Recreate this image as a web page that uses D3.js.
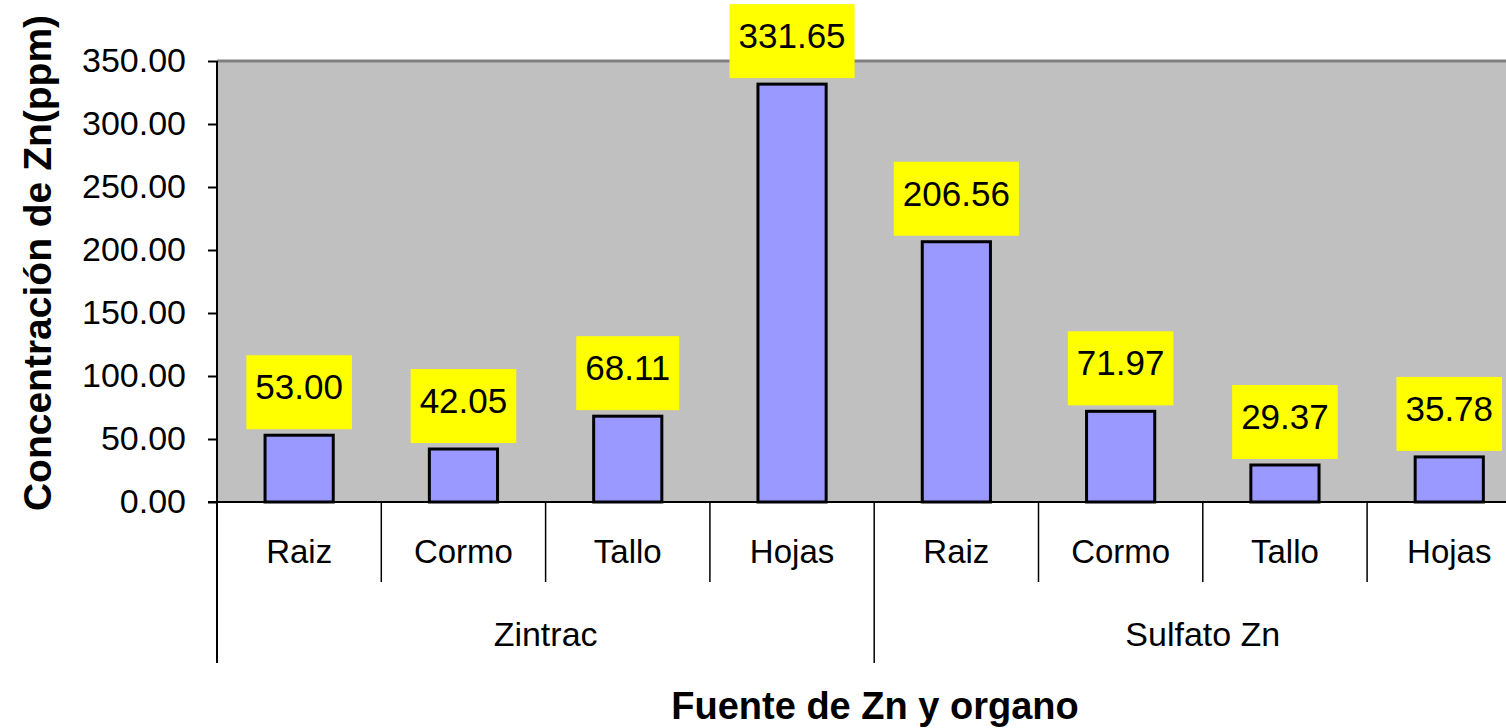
<!DOCTYPE html>
<html>
<head>
<meta charset="utf-8">
<script src="https://cdn.jsdelivr.net/npm/d3@7"></script>
<style>
  body { margin: 0; background: #fff; overflow: hidden; }
  svg { display: block; font-family: "Liberation Sans", Arial, sans-serif; }
</style>
</head>
<body>
<div id="chart"></div>
<script>
const organs = ['Raiz', 'Cormo', 'Tallo', 'Hojas', 'Raiz', 'Cormo', 'Tallo', 'Hojas'];
const groups = ['Zintrac', 'Sulfato Zn'];
const groupOf = [0, 0, 0, 0, 1, 1, 1, 1];
const values = [53.00, 42.05, 68.11, 331.65, 206.56, 71.97, 29.37, 35.78];
const yTicks = [0, 50, 100, 150, 200, 250, 300, 350];

const width = 1506, height = 728;
const plotLeft = 217, plotTop = 61, plotBottom = 502;
const band = 164.3;

const svg = d3.select('#chart').append('svg')
    .attr('width', width)
    .attr('height', height);

const x = d3.scaleBand()
    .domain(d3.range(values.length))
    .range([plotLeft, plotLeft + band * values.length]);

const y = d3.scaleLinear()
    .domain([0, 350])
    .range([plotBottom, plotTop]);

// plot area
svg.append('rect')
    .attr('x', plotLeft).attr('y', plotTop)
    .attr('width', width - plotLeft).attr('height', plotBottom - plotTop)
    .attr('fill', '#c0c0c0');
svg.append('line')
    .attr('x1', plotLeft).attr('x2', width)
    .attr('y1', plotTop).attr('y2', plotTop)
    .attr('stroke', '#808080').attr('stroke-width', 3);

// y axis
const yAxis = svg.append('g')
    .attr('transform', `translate(${plotLeft},0)`)
    .call(d3.axisLeft(y).tickValues(yTicks).tickFormat(d3.format('.2f')).tickSize(9).tickPadding(22));
yAxis.select('.domain').remove();
yAxis.selectAll('.tick line').attr('stroke', '#000').attr('stroke-width', 2);
yAxis.selectAll('.tick text')
    .attr('font-size', 34)
    .attr('fill', '#000')
    .attr('font-family', '"Liberation Sans", Arial, sans-serif');

// bars
svg.selectAll('.bar')
    .data(values)
    .enter().append('rect')
    .attr('class', 'bar')
    .attr('x', (d, i) => x(i) + band * 0.2925)
    .attr('y', d => y(d))
    .attr('width', band * 0.415)
    .attr('height', d => plotBottom - y(d))
    .attr('fill', '#9999ff')
    .attr('stroke', '#000')
    .attr('stroke-width', 3);

// axis lines
svg.append('line')
    .attr('x1', plotLeft - 9).attr('x2', width)
    .attr('y1', plotBottom).attr('y2', plotBottom)
    .attr('stroke', '#000').attr('stroke-width', 2);
svg.append('line')
    .attr('x1', plotLeft).attr('x2', plotLeft)
    .attr('y1', plotTop).attr('y2', 663)
    .attr('stroke', '#000').attr('stroke-width', 2);

// category dividers
d3.range(1, values.length + 1).forEach(i => {
    const isGroupEdge = i === 4;
    svg.append('line')
        .attr('x1', x(0) + i * band).attr('x2', x(0) + i * band)
        .attr('y1', plotBottom).attr('y2', isGroupEdge ? 663 : 582)
        .attr('stroke', '#000').attr('stroke-width', 1.5);
});

// value labels
const labels = svg.selectAll('.vlabel')
    .data(values)
    .enter().append('g')
    .attr('class', 'vlabel')
    .attr('transform', (d, i) => `translate(${x(i) + band / 2},${y(d) - 80})`);

labels.append('rect').attr('fill', '#ffff00');
labels.append('text')
    .attr('text-anchor', 'middle')
    .attr('y', 44)
    .attr('font-size', 35)
    .text(d => d.toFixed(2));
labels.each(function() {
    const g = d3.select(this);
    const w = g.select('text').node().getComputedTextLength() + 18;
    g.select('rect').attr('x', -w / 2).attr('y', 0).attr('width', w).attr('height', 74);
});

// organ labels
svg.selectAll('.organ')
    .data(organs)
    .enter().append('text')
    .attr('class', 'organ')
    .attr('x', (d, i) => x(i) + band / 2)
    .attr('y', 563)
    .attr('text-anchor', 'middle')
    .attr('font-size', 33)
    .text(d => d);

// group labels
svg.selectAll('.group')
    .data(groups)
    .enter().append('text')
    .attr('class', 'group')
    .attr('x', (d, gi) => {
        const idx = d3.range(values.length).filter(i => groupOf[i] === gi);
        return (x(idx[0]) + x(idx[idx.length - 1]) + band) / 2;
    })
    .attr('y', 646)
    .attr('text-anchor', 'middle')
    .attr('font-size', 34)
    .text(d => d);

// axis titles
svg.append('text')
    .attr('x', 875).attr('y', 719)
    .attr('text-anchor', 'middle')
    .attr('font-size', 38)
    .attr('font-weight', 'bold')
    .text('Fuente de Zn y organo');

svg.append('text')
    .attr('transform', 'translate(51,263) rotate(-90)')
    .attr('text-anchor', 'middle')
    .attr('font-size', 39)
    .attr('font-weight', 'bold')
    .text('Concentración de Zn(ppm)');
</script>
</body>
</html>
